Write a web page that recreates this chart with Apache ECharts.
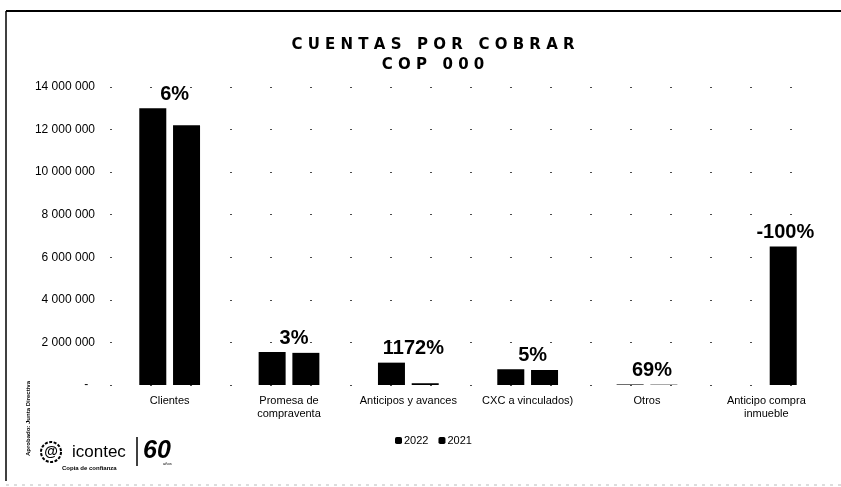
<!DOCTYPE html>
<html>
<head>
<meta charset="utf-8">
<script src="https://cdn.jsdelivr.net/npm/echarts@6/dist/echarts.min.js"></script>
<style>
  html, body { margin: 0; padding: 0; background: #fff; }
  #main { width: 841px; height: 487px; }
</style>
</head>
<body>
<div id="main"></div>
<script>
// datos (COP 000)
var categorias = ['Clientes', 'Promesa de\ncompraventa', 'Anticipos y avances', 'CXC a vinculados)', 'Otros', 'Anticipo compra\ninmueble'];
var valores2022 = [13000000, 1550000, 1050000, 740000, 27000, 0];
var valores2021 = [12200000, 1510000, 82500, 705000, 16000, 6510000];
var variaciones = ['6%', '3%', '1172%', '5%', '69%', '-100%'];
var ticksY = [0, 2000000, 4000000, 6000000, 8000000, 10000000, 12000000, 14000000];

window.onload = function () {
    var myChart = echarts.init(document.getElementById('main'));

    // etiqueta de variacion sobre la barra mas alta de cada par
    var etiquetas = categorias.map(function (c, i) {
        return {
            value: [i, Math.max(valores2022[i], valores2021[i])],
            label: { offset: [valores2022[i] === 0 ? 19 : 5, 2] }
        };
    });

    function fmtMiles(v) {
        if (v === 0) return '-  ';
        return String(v).replace(/\B(?=(\d{3})+(?!\d))/g, ' ');
    }

    var option = {
        animation: false,
        textStyle: { fontFamily: 'Liberation Sans' },
        title: {
            text: 'C U E N T A S   P O R   C O B R A R\nC O P   0 0 0',
            left: 428,
            top: 30,
            textAlign: 'center',
            textStyle: {
                fontFamily: 'DejaVu Sans',
                fontWeight: 'bold',
                fontSize: 15,
                lineHeight: 20,
                color: '#000'
            }
        },
        legend: {
            data: ['2022', '2021'],
            left: 390,
            top: 430,
            itemWidth: 7,
            itemHeight: 7,
            itemGap: 10,
            textStyle: { fontSize: 11, color: '#000', padding: [0, 0, 0, -3] }
        },
        grid: { left: 110, right: 15, top: 87, bottom: 102 },
        xAxis: {
            type: 'category',
            data: categorias,
            axisLine: { show: false },
            axisTick: { show: false },
            axisLabel: { fontSize: 11, color: '#000', margin: 9, lineHeight: 13, interval: 0 }
        },
        yAxis: {
            type: 'value',
            min: ticksY[0],
            max: ticksY[ticksY.length - 1],
            interval: ticksY[1] - ticksY[0],
            axisLine: { show: false },
            axisTick: { show: false },
            axisLabel: { fontSize: 12, color: '#000', margin: 15, formatter: fmtMiles },
            splitLine: { lineStyle: { color: '#000', width: 1, type: [2, 38], opacity: 0.7 } }
        },
        series: [
            {
                name: '2022',
                type: 'bar',
                barWidth: 27,
                barGap: '25%',
                itemStyle: { color: '#000' },
                data: valores2022
            },
            {
                name: '2021',
                type: 'bar',
                barWidth: 27,
                itemStyle: { color: '#000' },
                data: valores2021
            },
            {
                name: 'variacion',
                type: 'scatter',
                symbolSize: 0,
                silent: true,
                itemStyle: { opacity: 1 },
                label: {
                    show: true,
                    position: 'top',
                    distance: 6,
                    fontSize: 20,
                    fontWeight: 'bold',
                    color: '#000',
                    formatter: function (p) { return variaciones[p.dataIndex]; }
                },
                data: etiquetas
            }
        ],
        graphic: [
            // marco escaneado
            { type: 'line', shape: { x1: 6, y1: 11, x2: 841, y2: 11 }, style: { stroke: '#000', lineWidth: 2 } },
            { type: 'line', shape: { x1: 6, y1: 11, x2: 6, y2: 481 }, style: { stroke: '#000', lineWidth: 1.5 } },
            { type: 'line', shape: { x1: 6, y1: 485, x2: 841, y2: 485 }, style: { stroke: '#bbb', lineWidth: 1, lineDash: [3, 5] } },
            // texto vertical
            { type: 'text', x: 25, y: 456, rotation: Math.PI / 2,
              style: { text: 'Aprobado: Junta Directiva', fontSize: 6, fill: '#000', fontWeight: 'bold' } },
            // logo icontec
            { type: 'circle', shape: { cx: 51, cy: 452, r: 10 }, style: { fill: 'none', stroke: '#000', lineWidth: 2, lineDash: [3, 1.5] } },
            { type: 'text', x: 51, y: 452, style: { text: '@', fontSize: 14, fontWeight: 'bold', fill: '#000', align: 'center', verticalAlign: 'middle' } },
            { type: 'text', x: 72, y: 452, style: { text: 'icontec', fontSize: 17, fill: '#000', verticalAlign: 'middle', fontFamily: 'Liberation Sans' } },
            { type: 'line', shape: { x1: 137, y1: 437, x2: 137, y2: 466 }, style: { stroke: '#000', lineWidth: 1.5 } },
            { type: 'text', x: 143, y: 451, style: { text: '60', fontSize: 25, fontWeight: 'bold', fontStyle: 'italic', fill: '#000', verticalAlign: 'middle' } },
            { type: 'text', x: 163, y: 462, style: { text: 'años', fontSize: 4, fill: '#000' } },
            { type: 'text', x: 62, y: 468, style: { text: 'Copia de confianza', fontSize: 6, fontWeight: 'bold', fill: '#000', verticalAlign: 'middle' } }
        ]
    };
    myChart.setOption(option);
};
</script>
</body>
</html>
